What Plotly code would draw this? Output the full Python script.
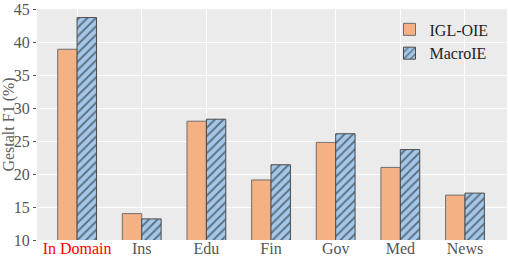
import plotly.graph_objects as go

categories = ["In Domain", "Ins", "Edu", "Fin", "Gov", "Med", "News"]
igl_oie = [38.9, 14.0, 28.0, 19.1, 24.8, 21.0, 16.8]
macroie = [43.7, 13.2, 28.3, 21.4, 26.1, 23.7, 17.1]
y_ticks = [10, 15, 20, 25, 30, 35, 40, 45]
tick_text = ["<span style='color:red'>In Domain</span>"] + categories[1:]

FONT = "Liberation Serif, Times New Roman, serif"

fig = go.Figure()
fig.add_trace(go.Bar(
    x=categories, y=igl_oie, name="IGL-OIE",
    marker=dict(color="#f4b183", line=dict(color="#6e6e6e", width=1)),
))
fig.add_trace(go.Bar(
    x=categories, y=macroie, name="MacroIE",
    marker=dict(color="#a4c8ea", line=dict(color="#4a4a4a", width=1),
                pattern=dict(shape="/", fgcolor="#1a1a1a", bgcolor="#a4c8ea",
                             size=6, solidity=0.32)),
))

fig.update_layout(
    width=508, height=258,
    margin=dict(l=37, r=1, t=8, b=17),
    barmode="group", bargap=0.4, bargroupgap=0,
    plot_bgcolor="#ebebeb", paper_bgcolor="white",
    font=dict(family=FONT, size=16, color="#555555"),
    showlegend=True,
    legend=dict(x=0.75, y=0.985, xanchor="left", yanchor="top",
                bgcolor="rgba(0,0,0,0)", font=dict(size=16, color="#222222"),
                itemwidth=30, tracegroupgap=2),
    xaxis=dict(
        tickmode="array", tickvals=categories, ticktext=tick_text,
        range=[-0.62, 6.65], showgrid=True, gridcolor="white", gridwidth=1,
        ticks="", ticklen=0, zeroline=False, showline=False,
        tickfont=dict(size=16, color="#555555"), ticklabelstandoff=-3,
    ),
    yaxis=dict(
        range=[10, 45], tickvals=y_ticks, showgrid=True, gridcolor="white",
        gridwidth=1, ticks="outside", ticklen=3, tickcolor="#555555",
        zeroline=False, showline=False, ticklabeloverflow="allow",
        title=dict(text="Gestalt F1 (%)", font=dict(size=16, color="#606060"), standoff=2),
        tickfont=dict(size=16, color="#555555"),
    ),
)

fig.write_html("out.html", config={"displayModeBar": False},
               post_script="document.body.style.margin='0';")
